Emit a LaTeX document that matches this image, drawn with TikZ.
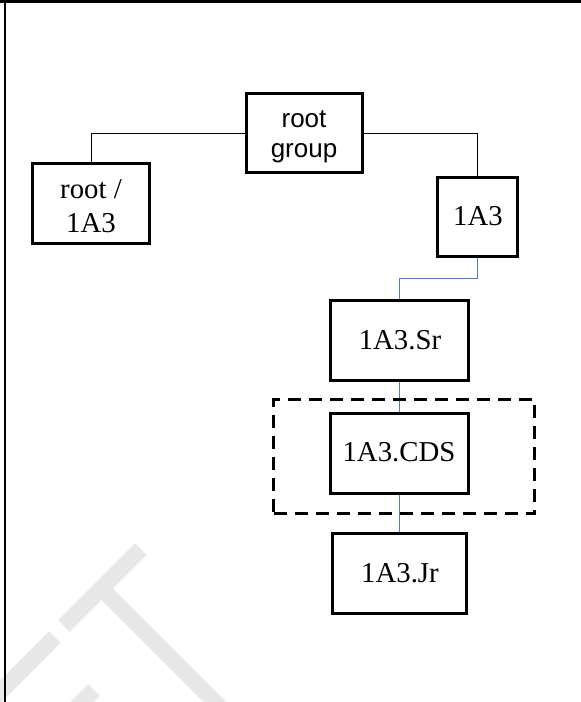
\documentclass[tikz,border=0pt]{standalone}
\usepackage{fontspec}
\setmainfont{Liberation Serif}
\newfontfamily\sansfam{Liberation Sans}
\usetikzlibrary{calc}
\definecolor{linkblue}{RGB}{79,129,189}
\definecolor{wmgray}{RGB}{232,232,232}

\begin{document}
\begin{tikzpicture}[x=1pt,y=-1pt,
  box/.style={draw=black, line width=2.4pt, inner sep=0pt, rectangle, fill=white},
  lbl/.style={anchor=base, inner sep=0pt, align=center, font=\fontsize{28.8}{34}\selectfont},
  slbl/.style={anchor=base, inner sep=0pt, align=center, font=\sansfam\fontsize{26}{30}\selectfont},
  tree/.style={draw=black, line width=1pt},
  chain/.style={draw=linkblue, line width=1.8pt},
  groupbox/.style={draw=black, line width=3.3pt, dash pattern=on 13pt off 8pt, inner sep=0pt, rectangle},
  wm/.style={draw=wmgray, line width=16.5pt},
]
\useasboundingbox (0,0) rectangle (581,702);

% faint watermark letters in the lower left
\begin{scope}
  \clip (0,0) rectangle (581,702);
  \draw[wm] (64,626) -- (141,549);
  \draw[wm] (101.5,588.5) -- (240,727);
  \draw[wm] (55,637) -- (-30,722);
  \draw[wm] (94,690) -- (60,724);
\end{scope}

% page frame
\draw[line width=2.7pt] (0,1.35) -- (581,1.35);
\draw[line width=2pt] (5,0) -- (5,702);

% boxes
\node[box, minimum width=116pt, minimum height=79pt] (rootgroup) at (304.5,133) {};
\node[box, minimum width=117pt, minimum height=80pt] (rootA) at (91,203.5) {};
\node[box, minimum width=80pt, minimum height=79pt] (n1A3) at (477.5,217) {};
\node[box, minimum width=138pt, minimum height=80pt] (sr) at (399.5,340.5) {};
\node[box, minimum width=138pt, minimum height=80pt] (cds) at (399.5,453.5) {};
\node[box, minimum width=134pt, minimum height=80pt] (jr) at (399.5,573.5) {};

% connectors
\draw[tree] (rootgroup.west) -| (rootA.north);
\draw[tree] (rootgroup.east) -| (n1A3.north);
\coordinate (bend) at ($(n1A3.south)!0.5!(sr.north)$);
\draw[chain] (n1A3.south) |- (bend) -| (sr.north);
\draw[chain] (sr.south) -- (cds.north);
\draw[chain] (cds.south) -- (jr.north);

% dashed group around 1A3.CDS
\node[groupbox, minimum width=261pt, minimum height=114pt] (cdsgroup) at (404,456.5) {};

% labels (base anchor sits on the last line of two-line labels)
\node[slbl] (t-rootgroup) at (304,157) {root\\group};
\node[lbl] (t-rootA) at (91,232) {root /\\1A3};
\node[lbl] (t-1A3) at (478,225.7) {1A3};
\node[lbl] (t-sr) at (400,349) {1A3.Sr};
\node[lbl] (t-cds) at (399,461.7) {1A3.CDS};
\node[lbl] (t-jr) at (400,582) {1A3.Jr};
\end{tikzpicture}
\end{document}
